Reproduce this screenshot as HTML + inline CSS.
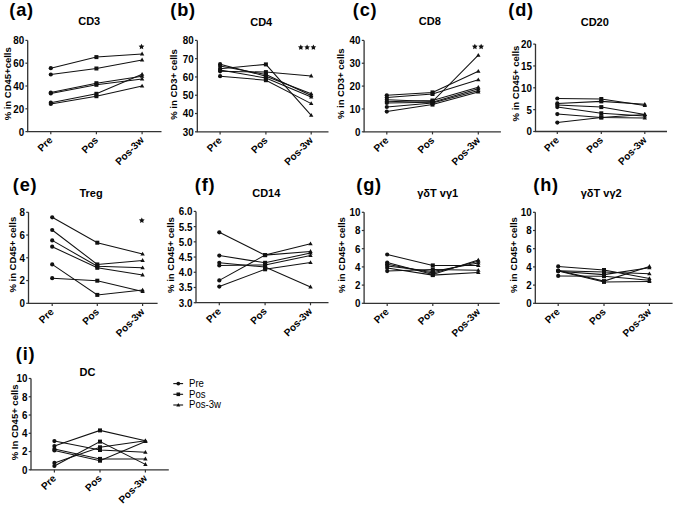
<!DOCTYPE html>
<html><head><meta charset="utf-8"><style>
html,body{margin:0;padding:0;background:#fff;}
svg{display:block;font-family:"Liberation Sans", sans-serif;}
</style></head><body>
<svg width="675" height="506" viewBox="0 0 675 506">
<rect width="675" height="506" fill="#fff"/>
<path d="M27.7 40.4V131.6H161.5" fill="none" stroke="#333" stroke-width="1.3"/>
<path d="M25.4 131.60H27.7" stroke="#333" stroke-width="1.2"/>
<text x="0" y="0" font-size="9.8" font-weight="bold" text-anchor="end" transform="translate(24.10 135.50) scale(1 1.12)">0</text>
<path d="M25.4 108.80H27.7" stroke="#333" stroke-width="1.2"/>
<text x="0" y="0" font-size="9.8" font-weight="bold" text-anchor="end" transform="translate(24.10 112.70) scale(1 1.12)">20</text>
<path d="M25.4 86.00H27.7" stroke="#333" stroke-width="1.2"/>
<text x="0" y="0" font-size="9.8" font-weight="bold" text-anchor="end" transform="translate(24.10 89.90) scale(1 1.12)">40</text>
<path d="M25.4 63.20H27.7" stroke="#333" stroke-width="1.2"/>
<text x="0" y="0" font-size="9.8" font-weight="bold" text-anchor="end" transform="translate(24.10 67.10) scale(1 1.12)">60</text>
<path d="M25.4 40.40H27.7" stroke="#333" stroke-width="1.2"/>
<text x="0" y="0" font-size="9.8" font-weight="bold" text-anchor="end" transform="translate(24.10 44.30) scale(1 1.12)">80</text>
<path d="M50.8 131.6V134.2" stroke="#333" stroke-width="1.2"/>
<path d="M96.4 131.6V134.2" stroke="#333" stroke-width="1.2"/>
<path d="M142.1 131.6V134.2" stroke="#333" stroke-width="1.2"/>
<text x="53.20" y="140.80" font-size="10.1" font-weight="bold" text-anchor="end" transform="rotate(-45 53.20 140.80)" fill="#000">Pre</text>
<text x="98.80" y="140.80" font-size="10.1" font-weight="bold" text-anchor="end" transform="rotate(-45 98.80 140.80)" fill="#000">Pos</text>
<text x="144.50" y="140.80" font-size="10.1" font-weight="bold" text-anchor="end" transform="rotate(-45 144.50 140.80)" fill="#000">Pos-3w</text>
<text x="9.30" y="15.50" font-size="18.2" font-weight="bold" letter-spacing="0.8">(a)</text>
<text x="89.20" y="25.20" font-size="11" font-weight="bold" text-anchor="middle" fill="#000">CD3</text>
<text x="11.50" y="83.80" font-size="9.5" font-weight="bold" text-anchor="middle" transform="rotate(-90 11.50 83.80)" fill="#000">% in CD45+cells</text>
<polygon points="141.50,43.80 142.38,45.59 144.35,45.87 142.93,47.26 143.26,49.23 141.50,48.30 139.74,49.23 140.07,47.26 138.65,45.87 140.62,45.59" fill="#111"/>
<g stroke="#111" stroke-width="1.05" fill="none">
<polyline points="50.80,68.20 96.40,57.10 142.10,53.90"/>
<polyline points="50.80,74.50 96.40,68.50 142.10,59.90"/>
<polyline points="50.80,92.50 96.40,83.20 142.10,76.20"/>
<polyline points="50.80,93.50 96.40,84.80 142.10,79.10"/>
<polyline points="50.80,102.70 96.40,93.80 142.10,74.20"/>
<polyline points="50.80,104.00 96.40,96.20 142.10,86.00"/>
</g>
<g fill="#111">
<circle cx="50.80" cy="68.20" r="2.1"/>
<rect x="94.40" y="55.10" width="4.0" height="4.0"/>
<path d="M142.10 51.61L144.30 55.42L139.90 55.42Z"/>
<circle cx="50.80" cy="74.50" r="2.1"/>
<rect x="94.40" y="66.50" width="4.0" height="4.0"/>
<path d="M142.10 57.61L144.30 61.42L139.90 61.42Z"/>
<circle cx="50.80" cy="92.50" r="2.1"/>
<rect x="94.40" y="81.20" width="4.0" height="4.0"/>
<path d="M142.10 73.91L144.30 77.72L139.90 77.72Z"/>
<circle cx="50.80" cy="93.50" r="2.1"/>
<rect x="94.40" y="82.80" width="4.0" height="4.0"/>
<path d="M142.10 76.81L144.30 80.62L139.90 80.62Z"/>
<circle cx="50.80" cy="102.70" r="2.1"/>
<rect x="94.40" y="91.80" width="4.0" height="4.0"/>
<path d="M142.10 71.91L144.30 75.72L139.90 75.72Z"/>
<circle cx="50.80" cy="104.00" r="2.1"/>
<rect x="94.40" y="94.20" width="4.0" height="4.0"/>
<path d="M142.10 83.71L144.30 87.52L139.90 87.52Z"/>
</g>
<path d="M197.3 40.4V131.8H328.5" fill="none" stroke="#333" stroke-width="1.3"/>
<path d="M195.0 131.80H197.3" stroke="#333" stroke-width="1.2"/>
<text x="0" y="0" font-size="9.8" font-weight="bold" text-anchor="end" transform="translate(193.70 135.70) scale(1 1.12)">30</text>
<path d="M195.0 113.52H197.3" stroke="#333" stroke-width="1.2"/>
<text x="0" y="0" font-size="9.8" font-weight="bold" text-anchor="end" transform="translate(193.70 117.42) scale(1 1.12)">40</text>
<path d="M195.0 95.24H197.3" stroke="#333" stroke-width="1.2"/>
<text x="0" y="0" font-size="9.8" font-weight="bold" text-anchor="end" transform="translate(193.70 99.14) scale(1 1.12)">50</text>
<path d="M195.0 76.96H197.3" stroke="#333" stroke-width="1.2"/>
<text x="0" y="0" font-size="9.8" font-weight="bold" text-anchor="end" transform="translate(193.70 80.86) scale(1 1.12)">60</text>
<path d="M195.0 58.68H197.3" stroke="#333" stroke-width="1.2"/>
<text x="0" y="0" font-size="9.8" font-weight="bold" text-anchor="end" transform="translate(193.70 62.58) scale(1 1.12)">70</text>
<path d="M195.0 40.40H197.3" stroke="#333" stroke-width="1.2"/>
<text x="0" y="0" font-size="9.8" font-weight="bold" text-anchor="end" transform="translate(193.70 44.30) scale(1 1.12)">80</text>
<path d="M220.1 131.8V134.4" stroke="#333" stroke-width="1.2"/>
<path d="M265.9 131.8V134.4" stroke="#333" stroke-width="1.2"/>
<path d="M311.2 131.8V134.4" stroke="#333" stroke-width="1.2"/>
<text x="222.50" y="141.00" font-size="10.1" font-weight="bold" text-anchor="end" transform="rotate(-45 222.50 141.00)" fill="#000">Pre</text>
<text x="268.30" y="141.00" font-size="10.1" font-weight="bold" text-anchor="end" transform="rotate(-45 268.30 141.00)" fill="#000">Pos</text>
<text x="313.60" y="141.00" font-size="10.1" font-weight="bold" text-anchor="end" transform="rotate(-45 313.60 141.00)" fill="#000">Pos-3w</text>
<text x="170.30" y="15.50" font-size="18.2" font-weight="bold" letter-spacing="0.8">(b)</text>
<text x="261.20" y="25.80" font-size="11" font-weight="bold" text-anchor="middle" fill="#000">CD4</text>
<text x="177.00" y="84.50" font-size="9.5" font-weight="bold" text-anchor="middle" transform="rotate(-90 177.00 84.50)" fill="#000">% in CD3+ cells</text>
<polygon points="300.80,44.40 301.68,46.19 303.65,46.47 302.23,47.86 302.56,49.83 300.80,48.90 299.04,49.83 299.37,47.86 297.95,46.47 299.92,46.19" fill="#111"/>
<polygon points="307.10,44.40 307.98,46.19 309.95,46.47 308.53,47.86 308.86,49.83 307.10,48.90 305.34,49.83 305.67,47.86 304.25,46.47 306.22,46.19" fill="#111"/>
<polygon points="313.40,44.40 314.28,46.19 316.25,46.47 314.83,47.86 315.16,49.83 313.40,48.90 311.64,49.83 311.97,47.86 310.55,46.47 312.52,46.19" fill="#111"/>
<g stroke="#111" stroke-width="1.05" fill="none">
<polyline points="220.10,68.70 265.90,64.40 311.20,115.30"/>
<polyline points="220.10,71.30 265.90,72.10 311.20,75.90"/>
<polyline points="220.10,64.20 265.90,76.20 311.20,93.80"/>
<polyline points="220.10,66.00 265.90,74.50 311.20,95.40"/>
<polyline points="220.10,70.00 265.90,78.00 311.20,97.00"/>
<polyline points="220.10,76.20 265.90,80.20 311.20,103.60"/>
</g>
<g fill="#111">
<circle cx="220.10" cy="68.70" r="2.1"/>
<rect x="263.90" y="62.40" width="4.0" height="4.0"/>
<path d="M311.20 113.01L313.40 116.82L309.00 116.82Z"/>
<circle cx="220.10" cy="71.30" r="2.1"/>
<rect x="263.90" y="70.10" width="4.0" height="4.0"/>
<path d="M311.20 73.61L313.40 77.42L309.00 77.42Z"/>
<circle cx="220.10" cy="64.20" r="2.1"/>
<rect x="263.90" y="74.20" width="4.0" height="4.0"/>
<path d="M311.20 91.51L313.40 95.32L309.00 95.32Z"/>
<circle cx="220.10" cy="66.00" r="2.1"/>
<rect x="263.90" y="72.50" width="4.0" height="4.0"/>
<path d="M311.20 93.11L313.40 96.92L309.00 96.92Z"/>
<circle cx="220.10" cy="70.00" r="2.1"/>
<rect x="263.90" y="76.00" width="4.0" height="4.0"/>
<path d="M311.20 94.71L313.40 98.52L309.00 98.52Z"/>
<circle cx="220.10" cy="76.20" r="2.1"/>
<rect x="263.90" y="78.20" width="4.0" height="4.0"/>
<path d="M311.20 101.31L313.40 105.12L309.00 105.12Z"/>
</g>
<path d="M364.1 40.4V131.8H500.9" fill="none" stroke="#333" stroke-width="1.3"/>
<path d="M361.8 131.80H364.1" stroke="#333" stroke-width="1.2"/>
<text x="0" y="0" font-size="9.8" font-weight="bold" text-anchor="end" transform="translate(360.50 135.70) scale(1 1.12)">0</text>
<path d="M361.8 108.95H364.1" stroke="#333" stroke-width="1.2"/>
<text x="0" y="0" font-size="9.8" font-weight="bold" text-anchor="end" transform="translate(360.50 112.85) scale(1 1.12)">10</text>
<path d="M361.8 86.10H364.1" stroke="#333" stroke-width="1.2"/>
<text x="0" y="0" font-size="9.8" font-weight="bold" text-anchor="end" transform="translate(360.50 90.00) scale(1 1.12)">20</text>
<path d="M361.8 63.25H364.1" stroke="#333" stroke-width="1.2"/>
<text x="0" y="0" font-size="9.8" font-weight="bold" text-anchor="end" transform="translate(360.50 67.15) scale(1 1.12)">30</text>
<path d="M361.8 40.40H364.1" stroke="#333" stroke-width="1.2"/>
<text x="0" y="0" font-size="9.8" font-weight="bold" text-anchor="end" transform="translate(360.50 44.30) scale(1 1.12)">40</text>
<path d="M386.8 131.8V134.4" stroke="#333" stroke-width="1.2"/>
<path d="M432.5 131.8V134.4" stroke="#333" stroke-width="1.2"/>
<path d="M478.3 131.8V134.4" stroke="#333" stroke-width="1.2"/>
<text x="389.20" y="141.00" font-size="10.1" font-weight="bold" text-anchor="end" transform="rotate(-45 389.20 141.00)" fill="#000">Pre</text>
<text x="434.90" y="141.00" font-size="10.1" font-weight="bold" text-anchor="end" transform="rotate(-45 434.90 141.00)" fill="#000">Pos</text>
<text x="480.70" y="141.00" font-size="10.1" font-weight="bold" text-anchor="end" transform="rotate(-45 480.70 141.00)" fill="#000">Pos-3w</text>
<text x="352.80" y="15.50" font-size="18.2" font-weight="bold" letter-spacing="0.8">(c)</text>
<text x="429.80" y="25.20" font-size="11" font-weight="bold" text-anchor="middle" fill="#000">CD8</text>
<text x="344.50" y="83.80" font-size="9.5" font-weight="bold" text-anchor="middle" transform="rotate(-90 344.50 83.80)" fill="#000">% in CD3+ cells</text>
<polygon points="474.85,43.80 475.73,45.59 477.70,45.87 476.28,47.26 476.61,49.23 474.85,48.30 473.09,49.23 473.42,47.26 472.00,45.87 473.97,45.59" fill="#111"/>
<polygon points="481.15,43.80 482.03,45.59 484.00,45.87 482.58,47.26 482.91,49.23 481.15,48.30 479.39,49.23 479.72,47.26 478.30,45.87 480.27,45.59" fill="#111"/>
<g stroke="#111" stroke-width="1.05" fill="none">
<polyline points="386.80,95.30 432.50,92.40 478.30,71.20"/>
<polyline points="386.80,97.60 432.50,94.00 478.30,79.70"/>
<polyline points="386.80,99.70 432.50,101.50 478.30,55.20"/>
<polyline points="386.80,101.80 432.50,100.50 478.30,87.20"/>
<polyline points="386.80,103.00 432.50,102.20 478.30,88.80"/>
<polyline points="386.80,107.00 432.50,103.00 478.30,90.40"/>
<polyline points="386.80,111.60 432.50,104.60 478.30,92.00"/>
</g>
<g fill="#111">
<circle cx="386.80" cy="95.30" r="2.1"/>
<rect x="430.50" y="90.40" width="4.0" height="4.0"/>
<path d="M478.30 68.91L480.50 72.72L476.10 72.72Z"/>
<circle cx="386.80" cy="97.60" r="2.1"/>
<rect x="430.50" y="92.00" width="4.0" height="4.0"/>
<path d="M478.30 77.41L480.50 81.22L476.10 81.22Z"/>
<circle cx="386.80" cy="99.70" r="2.1"/>
<rect x="430.50" y="99.50" width="4.0" height="4.0"/>
<path d="M478.30 52.91L480.50 56.72L476.10 56.72Z"/>
<circle cx="386.80" cy="101.80" r="2.1"/>
<rect x="430.50" y="98.50" width="4.0" height="4.0"/>
<path d="M478.30 84.91L480.50 88.72L476.10 88.72Z"/>
<circle cx="386.80" cy="103.00" r="2.1"/>
<rect x="430.50" y="100.20" width="4.0" height="4.0"/>
<path d="M478.30 86.51L480.50 90.32L476.10 90.32Z"/>
<circle cx="386.80" cy="107.00" r="2.1"/>
<rect x="430.50" y="101.00" width="4.0" height="4.0"/>
<path d="M478.30 88.11L480.50 91.92L476.10 91.92Z"/>
<circle cx="386.80" cy="111.60" r="2.1"/>
<rect x="430.50" y="102.60" width="4.0" height="4.0"/>
<path d="M478.30 89.71L480.50 93.52L476.10 93.52Z"/>
</g>
<path d="M535.5 44.1V131.5H667" fill="none" stroke="#333" stroke-width="1.3"/>
<path d="M533.2 131.50H535.5" stroke="#333" stroke-width="1.2"/>
<text x="0" y="0" font-size="9.8" font-weight="bold" text-anchor="end" transform="translate(531.90 135.40) scale(1 1.12)">0</text>
<path d="M533.2 109.65H535.5" stroke="#333" stroke-width="1.2"/>
<text x="0" y="0" font-size="9.8" font-weight="bold" text-anchor="end" transform="translate(531.90 113.55) scale(1 1.12)">5</text>
<path d="M533.2 87.80H535.5" stroke="#333" stroke-width="1.2"/>
<text x="0" y="0" font-size="9.8" font-weight="bold" text-anchor="end" transform="translate(531.90 91.70) scale(1 1.12)">10</text>
<path d="M533.2 65.95H535.5" stroke="#333" stroke-width="1.2"/>
<text x="0" y="0" font-size="9.8" font-weight="bold" text-anchor="end" transform="translate(531.90 69.85) scale(1 1.12)">15</text>
<path d="M533.2 44.10H535.5" stroke="#333" stroke-width="1.2"/>
<text x="0" y="0" font-size="9.8" font-weight="bold" text-anchor="end" transform="translate(531.90 48.00) scale(1 1.12)">20</text>
<path d="M557.3 131.5V134.1" stroke="#333" stroke-width="1.2"/>
<path d="M601.3 131.5V134.1" stroke="#333" stroke-width="1.2"/>
<path d="M644.8 131.5V134.1" stroke="#333" stroke-width="1.2"/>
<text x="559.70" y="140.70" font-size="10.1" font-weight="bold" text-anchor="end" transform="rotate(-45 559.70 140.70)" fill="#000">Pre</text>
<text x="603.70" y="140.70" font-size="10.1" font-weight="bold" text-anchor="end" transform="rotate(-45 603.70 140.70)" fill="#000">Pos</text>
<text x="647.20" y="140.70" font-size="10.1" font-weight="bold" text-anchor="end" transform="rotate(-45 647.20 140.70)" fill="#000">Pos-3w</text>
<text x="508.30" y="15.50" font-size="18.2" font-weight="bold" letter-spacing="0.8">(d)</text>
<text x="594.80" y="25.80" font-size="11" font-weight="bold" text-anchor="middle" fill="#000">CD20</text>
<text x="518.50" y="83.50" font-size="9.5" font-weight="bold" text-anchor="middle" transform="rotate(-90 518.50 83.50)" fill="#000">% in CD45+ cells</text>
<g stroke="#111" stroke-width="1.05" fill="none">
<polyline points="557.30,98.50 601.30,99.00 644.80,105.50"/>
<polyline points="557.30,103.40 601.30,101.40 644.80,104.30"/>
<polyline points="557.30,105.00 601.30,107.10 644.80,114.40"/>
<polyline points="557.30,107.10 601.30,113.30 644.80,116.00"/>
<polyline points="557.30,114.10 601.30,117.40 644.80,118.00"/>
<polyline points="557.30,122.60 601.30,117.40 644.80,114.40"/>
</g>
<g fill="#111">
<circle cx="557.30" cy="98.50" r="2.1"/>
<rect x="599.30" y="97.00" width="4.0" height="4.0"/>
<path d="M644.80 103.21L647.00 107.02L642.60 107.02Z"/>
<circle cx="557.30" cy="103.40" r="2.1"/>
<rect x="599.30" y="99.40" width="4.0" height="4.0"/>
<path d="M644.80 102.01L647.00 105.82L642.60 105.82Z"/>
<circle cx="557.30" cy="105.00" r="2.1"/>
<rect x="599.30" y="105.10" width="4.0" height="4.0"/>
<path d="M644.80 112.11L647.00 115.92L642.60 115.92Z"/>
<circle cx="557.30" cy="107.10" r="2.1"/>
<rect x="599.30" y="111.30" width="4.0" height="4.0"/>
<path d="M644.80 113.71L647.00 117.52L642.60 117.52Z"/>
<circle cx="557.30" cy="114.10" r="2.1"/>
<rect x="599.30" y="115.40" width="4.0" height="4.0"/>
<path d="M644.80 115.71L647.00 119.52L642.60 119.52Z"/>
<circle cx="557.30" cy="122.60" r="2.1"/>
<rect x="599.30" y="115.40" width="4.0" height="4.0"/>
<path d="M644.80 112.11L647.00 115.92L642.60 115.92Z"/>
</g>
<path d="M28.5 212.3V303.3H157.6" fill="none" stroke="#333" stroke-width="1.3"/>
<path d="M26.2 303.30H28.5" stroke="#333" stroke-width="1.2"/>
<text x="0" y="0" font-size="9.8" font-weight="bold" text-anchor="end" transform="translate(24.90 307.20) scale(1 1.12)">0</text>
<path d="M26.2 280.55H28.5" stroke="#333" stroke-width="1.2"/>
<text x="0" y="0" font-size="9.8" font-weight="bold" text-anchor="end" transform="translate(24.90 284.45) scale(1 1.12)">2</text>
<path d="M26.2 257.80H28.5" stroke="#333" stroke-width="1.2"/>
<text x="0" y="0" font-size="9.8" font-weight="bold" text-anchor="end" transform="translate(24.90 261.70) scale(1 1.12)">4</text>
<path d="M26.2 235.05H28.5" stroke="#333" stroke-width="1.2"/>
<text x="0" y="0" font-size="9.8" font-weight="bold" text-anchor="end" transform="translate(24.90 238.95) scale(1 1.12)">6</text>
<path d="M26.2 212.30H28.5" stroke="#333" stroke-width="1.2"/>
<text x="0" y="0" font-size="9.8" font-weight="bold" text-anchor="end" transform="translate(24.90 216.20) scale(1 1.12)">8</text>
<path d="M52.2 303.3V305.90000000000003" stroke="#333" stroke-width="1.2"/>
<path d="M97.3 303.3V305.90000000000003" stroke="#333" stroke-width="1.2"/>
<path d="M142.6 303.3V305.90000000000003" stroke="#333" stroke-width="1.2"/>
<text x="54.60" y="312.50" font-size="10.1" font-weight="bold" text-anchor="end" transform="rotate(-45 54.60 312.50)" fill="#000">Pre</text>
<text x="99.70" y="312.50" font-size="10.1" font-weight="bold" text-anchor="end" transform="rotate(-45 99.70 312.50)" fill="#000">Pos</text>
<text x="145.00" y="312.50" font-size="10.1" font-weight="bold" text-anchor="end" transform="rotate(-45 145.00 312.50)" fill="#000">Pos-3w</text>
<text x="12.80" y="190.50" font-size="18.2" font-weight="bold" letter-spacing="0.8">(e)</text>
<text x="91.00" y="196.70" font-size="11" font-weight="bold" text-anchor="middle" fill="#000">Treg</text>
<text x="16.50" y="254.70" font-size="9.5" font-weight="bold" text-anchor="middle" transform="rotate(-90 16.50 254.70)" fill="#000">% in CD45+ cells</text>
<polygon points="141.80,217.50 142.68,219.29 144.65,219.57 143.23,220.96 143.56,222.93 141.80,222.00 140.04,222.93 140.37,220.96 138.95,219.57 140.92,219.29" fill="#111"/>
<g stroke="#111" stroke-width="1.05" fill="none">
<polyline points="52.20,217.30 97.30,242.70 142.60,254.00"/>
<polyline points="52.20,230.00 97.30,264.40 142.60,260.40"/>
<polyline points="52.20,240.40 97.30,266.20 142.60,267.80"/>
<polyline points="52.20,246.70 97.30,267.80 142.60,274.90"/>
<polyline points="52.20,264.40 97.30,294.90 142.60,290.00"/>
<polyline points="52.20,278.20 97.30,280.70 142.60,291.60"/>
</g>
<g fill="#111">
<circle cx="52.20" cy="217.30" r="2.1"/>
<rect x="95.30" y="240.70" width="4.0" height="4.0"/>
<path d="M142.60 251.71L144.80 255.52L140.40 255.52Z"/>
<circle cx="52.20" cy="230.00" r="2.1"/>
<rect x="95.30" y="262.40" width="4.0" height="4.0"/>
<path d="M142.60 258.11L144.80 261.92L140.40 261.92Z"/>
<circle cx="52.20" cy="240.40" r="2.1"/>
<rect x="95.30" y="264.20" width="4.0" height="4.0"/>
<path d="M142.60 265.51L144.80 269.32L140.40 269.32Z"/>
<circle cx="52.20" cy="246.70" r="2.1"/>
<rect x="95.30" y="265.80" width="4.0" height="4.0"/>
<path d="M142.60 272.61L144.80 276.42L140.40 276.42Z"/>
<circle cx="52.20" cy="264.40" r="2.1"/>
<rect x="95.30" y="292.90" width="4.0" height="4.0"/>
<path d="M142.60 287.71L144.80 291.52L140.40 291.52Z"/>
<circle cx="52.20" cy="278.20" r="2.1"/>
<rect x="95.30" y="278.70" width="4.0" height="4.0"/>
<path d="M142.60 289.31L144.80 293.12L140.40 293.12Z"/>
</g>
<path d="M196 211.4V302.7H328.5" fill="none" stroke="#333" stroke-width="1.3"/>
<path d="M193.7 302.70H196" stroke="#333" stroke-width="1.2"/>
<text x="0" y="0" font-size="9.8" font-weight="bold" text-anchor="end" transform="translate(192.40 306.60) scale(1 1.12)">3.0</text>
<path d="M193.7 287.48H196" stroke="#333" stroke-width="1.2"/>
<text x="0" y="0" font-size="9.8" font-weight="bold" text-anchor="end" transform="translate(192.40 291.38) scale(1 1.12)">3.5</text>
<path d="M193.7 272.27H196" stroke="#333" stroke-width="1.2"/>
<text x="0" y="0" font-size="9.8" font-weight="bold" text-anchor="end" transform="translate(192.40 276.17) scale(1 1.12)">4.0</text>
<path d="M193.7 257.05H196" stroke="#333" stroke-width="1.2"/>
<text x="0" y="0" font-size="9.8" font-weight="bold" text-anchor="end" transform="translate(192.40 260.95) scale(1 1.12)">4.5</text>
<path d="M193.7 241.83H196" stroke="#333" stroke-width="1.2"/>
<text x="0" y="0" font-size="9.8" font-weight="bold" text-anchor="end" transform="translate(192.40 245.73) scale(1 1.12)">5.0</text>
<path d="M193.7 226.62H196" stroke="#333" stroke-width="1.2"/>
<text x="0" y="0" font-size="9.8" font-weight="bold" text-anchor="end" transform="translate(192.40 230.52) scale(1 1.12)">5.5</text>
<path d="M193.7 211.40H196" stroke="#333" stroke-width="1.2"/>
<text x="0" y="0" font-size="9.8" font-weight="bold" text-anchor="end" transform="translate(192.40 215.30) scale(1 1.12)">6.0</text>
<path d="M219.3 302.7V305.3" stroke="#333" stroke-width="1.2"/>
<path d="M265.1 302.7V305.3" stroke="#333" stroke-width="1.2"/>
<path d="M310.5 302.7V305.3" stroke="#333" stroke-width="1.2"/>
<text x="221.70" y="311.90" font-size="10.1" font-weight="bold" text-anchor="end" transform="rotate(-45 221.70 311.90)" fill="#000">Pre</text>
<text x="267.50" y="311.90" font-size="10.1" font-weight="bold" text-anchor="end" transform="rotate(-45 267.50 311.90)" fill="#000">Pos</text>
<text x="312.90" y="311.90" font-size="10.1" font-weight="bold" text-anchor="end" transform="rotate(-45 312.90 311.90)" fill="#000">Pos-3w</text>
<text x="194.80" y="190.50" font-size="18.2" font-weight="bold" letter-spacing="0.8">(f)</text>
<text x="266.30" y="197.00" font-size="11" font-weight="bold" text-anchor="middle" fill="#000">CD14</text>
<text x="173.50" y="255.00" font-size="9.5" font-weight="bold" text-anchor="middle" transform="rotate(-90 173.50 255.00)" fill="#000">% in CD45+ cells</text>
<g stroke="#111" stroke-width="1.05" fill="none">
<polyline points="219.30,232.30 265.10,255.10 310.50,251.40"/>
<polyline points="219.30,280.40 265.10,255.10 310.50,243.70"/>
<polyline points="219.30,255.60 265.10,262.80 310.50,253.00"/>
<polyline points="219.30,265.40 265.10,264.90 310.50,255.60"/>
<polyline points="219.30,286.60 265.10,269.30 310.50,262.50"/>
<polyline points="219.30,262.80 265.10,267.00 310.50,286.90"/>
</g>
<g fill="#111">
<circle cx="219.30" cy="232.30" r="2.1"/>
<rect x="263.10" y="253.10" width="4.0" height="4.0"/>
<path d="M310.50 249.11L312.70 252.92L308.30 252.92Z"/>
<circle cx="219.30" cy="280.40" r="2.1"/>
<rect x="263.10" y="253.10" width="4.0" height="4.0"/>
<path d="M310.50 241.41L312.70 245.22L308.30 245.22Z"/>
<circle cx="219.30" cy="255.60" r="2.1"/>
<rect x="263.10" y="260.80" width="4.0" height="4.0"/>
<path d="M310.50 250.71L312.70 254.52L308.30 254.52Z"/>
<circle cx="219.30" cy="265.40" r="2.1"/>
<rect x="263.10" y="262.90" width="4.0" height="4.0"/>
<path d="M310.50 253.31L312.70 257.12L308.30 257.12Z"/>
<circle cx="219.30" cy="286.60" r="2.1"/>
<rect x="263.10" y="267.30" width="4.0" height="4.0"/>
<path d="M310.50 260.21L312.70 264.02L308.30 264.02Z"/>
<circle cx="219.30" cy="262.80" r="2.1"/>
<rect x="263.10" y="265.00" width="4.0" height="4.0"/>
<path d="M310.50 284.61L312.70 288.42L308.30 288.42Z"/>
</g>
<path d="M364.1 212.3V303.3H499.7" fill="none" stroke="#333" stroke-width="1.3"/>
<path d="M361.8 303.30H364.1" stroke="#333" stroke-width="1.2"/>
<text x="0" y="0" font-size="9.8" font-weight="bold" text-anchor="end" transform="translate(360.50 307.20) scale(1 1.12)">0</text>
<path d="M361.8 285.10H364.1" stroke="#333" stroke-width="1.2"/>
<text x="0" y="0" font-size="9.8" font-weight="bold" text-anchor="end" transform="translate(360.50 289.00) scale(1 1.12)">2</text>
<path d="M361.8 266.90H364.1" stroke="#333" stroke-width="1.2"/>
<text x="0" y="0" font-size="9.8" font-weight="bold" text-anchor="end" transform="translate(360.50 270.80) scale(1 1.12)">4</text>
<path d="M361.8 248.70H364.1" stroke="#333" stroke-width="1.2"/>
<text x="0" y="0" font-size="9.8" font-weight="bold" text-anchor="end" transform="translate(360.50 252.60) scale(1 1.12)">6</text>
<path d="M361.8 230.50H364.1" stroke="#333" stroke-width="1.2"/>
<text x="0" y="0" font-size="9.8" font-weight="bold" text-anchor="end" transform="translate(360.50 234.40) scale(1 1.12)">8</text>
<path d="M361.8 212.30H364.1" stroke="#333" stroke-width="1.2"/>
<text x="0" y="0" font-size="9.8" font-weight="bold" text-anchor="end" transform="translate(360.50 216.20) scale(1 1.12)">10</text>
<path d="M387.2 303.3V305.90000000000003" stroke="#333" stroke-width="1.2"/>
<path d="M432.8 303.3V305.90000000000003" stroke="#333" stroke-width="1.2"/>
<path d="M478.3 303.3V305.90000000000003" stroke="#333" stroke-width="1.2"/>
<text x="389.60" y="312.50" font-size="10.1" font-weight="bold" text-anchor="end" transform="rotate(-45 389.60 312.50)" fill="#000">Pre</text>
<text x="435.20" y="312.50" font-size="10.1" font-weight="bold" text-anchor="end" transform="rotate(-45 435.20 312.50)" fill="#000">Pos</text>
<text x="480.70" y="312.50" font-size="10.1" font-weight="bold" text-anchor="end" transform="rotate(-45 480.70 312.50)" fill="#000">Pos-3w</text>
<text x="356.30" y="190.50" font-size="18.2" font-weight="bold" letter-spacing="0.8">(g)</text>
<text x="437.70" y="196.60" font-size="11" font-weight="bold" text-anchor="middle" fill="#000">γδT vγ1</text>
<text x="344.80" y="255.00" font-size="9.5" font-weight="bold" text-anchor="middle" transform="rotate(-90 344.80 255.00)" fill="#000">% in CD45+ cells</text>
<g stroke="#111" stroke-width="1.05" fill="none">
<polyline points="387.20,254.50 432.80,265.40 478.30,265.40"/>
<polyline points="387.20,262.60 432.80,274.50 478.30,260.00"/>
<polyline points="387.20,264.20 432.80,273.00 478.30,261.30"/>
<polyline points="387.20,265.90 432.80,271.50 478.30,262.90"/>
<polyline points="387.20,271.10 432.80,269.50 478.30,270.30"/>
<polyline points="387.20,268.00 432.80,275.10 478.30,272.40"/>
</g>
<g fill="#111">
<circle cx="387.20" cy="254.50" r="2.1"/>
<rect x="430.80" y="263.40" width="4.0" height="4.0"/>
<path d="M478.30 263.11L480.50 266.92L476.10 266.92Z"/>
<circle cx="387.20" cy="262.60" r="2.1"/>
<rect x="430.80" y="272.50" width="4.0" height="4.0"/>
<path d="M478.30 257.71L480.50 261.52L476.10 261.52Z"/>
<circle cx="387.20" cy="264.20" r="2.1"/>
<rect x="430.80" y="271.00" width="4.0" height="4.0"/>
<path d="M478.30 259.01L480.50 262.82L476.10 262.82Z"/>
<circle cx="387.20" cy="265.90" r="2.1"/>
<rect x="430.80" y="269.50" width="4.0" height="4.0"/>
<path d="M478.30 260.61L480.50 264.42L476.10 264.42Z"/>
<circle cx="387.20" cy="271.10" r="2.1"/>
<rect x="430.80" y="267.50" width="4.0" height="4.0"/>
<path d="M478.30 268.01L480.50 271.82L476.10 271.82Z"/>
<circle cx="387.20" cy="268.00" r="2.1"/>
<rect x="430.80" y="273.10" width="4.0" height="4.0"/>
<path d="M478.30 270.11L480.50 273.92L476.10 273.92Z"/>
</g>
<path d="M535.3 212.3V303.3H672.6" fill="none" stroke="#333" stroke-width="1.3"/>
<path d="M533.0 303.30H535.3" stroke="#333" stroke-width="1.2"/>
<text x="0" y="0" font-size="9.8" font-weight="bold" text-anchor="end" transform="translate(531.70 307.20) scale(1 1.12)">0</text>
<path d="M533.0 285.10H535.3" stroke="#333" stroke-width="1.2"/>
<text x="0" y="0" font-size="9.8" font-weight="bold" text-anchor="end" transform="translate(531.70 289.00) scale(1 1.12)">2</text>
<path d="M533.0 266.90H535.3" stroke="#333" stroke-width="1.2"/>
<text x="0" y="0" font-size="9.8" font-weight="bold" text-anchor="end" transform="translate(531.70 270.80) scale(1 1.12)">4</text>
<path d="M533.0 248.70H535.3" stroke="#333" stroke-width="1.2"/>
<text x="0" y="0" font-size="9.8" font-weight="bold" text-anchor="end" transform="translate(531.70 252.60) scale(1 1.12)">6</text>
<path d="M533.0 230.50H535.3" stroke="#333" stroke-width="1.2"/>
<text x="0" y="0" font-size="9.8" font-weight="bold" text-anchor="end" transform="translate(531.70 234.40) scale(1 1.12)">8</text>
<path d="M533.0 212.30H535.3" stroke="#333" stroke-width="1.2"/>
<text x="0" y="0" font-size="9.8" font-weight="bold" text-anchor="end" transform="translate(531.70 216.20) scale(1 1.12)">10</text>
<path d="M558.2 303.3V305.90000000000003" stroke="#333" stroke-width="1.2"/>
<path d="M604 303.3V305.90000000000003" stroke="#333" stroke-width="1.2"/>
<path d="M649.4 303.3V305.90000000000003" stroke="#333" stroke-width="1.2"/>
<text x="560.60" y="312.50" font-size="10.1" font-weight="bold" text-anchor="end" transform="rotate(-45 560.60 312.50)" fill="#000">Pre</text>
<text x="606.40" y="312.50" font-size="10.1" font-weight="bold" text-anchor="end" transform="rotate(-45 606.40 312.50)" fill="#000">Pos</text>
<text x="651.80" y="312.50" font-size="10.1" font-weight="bold" text-anchor="end" transform="rotate(-45 651.80 312.50)" fill="#000">Pos-3w</text>
<text x="533.30" y="190.50" font-size="18.2" font-weight="bold" letter-spacing="0.8">(h)</text>
<text x="601.20" y="197.00" font-size="11" font-weight="bold" text-anchor="middle" fill="#000">γδT vγ2</text>
<text x="517.00" y="255.00" font-size="9.5" font-weight="bold" text-anchor="middle" transform="rotate(-90 517.00 255.00)" fill="#000">% in CD45+ cells</text>
<g stroke="#111" stroke-width="1.05" fill="none">
<polyline points="558.20,266.40 604.00,270.00 649.40,278.60"/>
<polyline points="558.20,270.50 604.00,281.10 649.40,266.40"/>
<polyline points="558.20,271.30 604.00,274.60 649.40,267.70"/>
<polyline points="558.20,270.80 604.00,272.10 649.40,273.70"/>
<polyline points="558.20,275.90 604.00,276.20 649.40,280.30"/>
<polyline points="558.20,271.00 604.00,281.90 649.40,281.40"/>
</g>
<g fill="#111">
<circle cx="558.20" cy="266.40" r="2.1"/>
<rect x="602.00" y="268.00" width="4.0" height="4.0"/>
<path d="M649.40 276.31L651.60 280.12L647.20 280.12Z"/>
<circle cx="558.20" cy="270.50" r="2.1"/>
<rect x="602.00" y="279.10" width="4.0" height="4.0"/>
<path d="M649.40 264.11L651.60 267.92L647.20 267.92Z"/>
<circle cx="558.20" cy="271.30" r="2.1"/>
<rect x="602.00" y="272.60" width="4.0" height="4.0"/>
<path d="M649.40 265.41L651.60 269.22L647.20 269.22Z"/>
<circle cx="558.20" cy="270.80" r="2.1"/>
<rect x="602.00" y="270.10" width="4.0" height="4.0"/>
<path d="M649.40 271.41L651.60 275.22L647.20 275.22Z"/>
<circle cx="558.20" cy="275.90" r="2.1"/>
<rect x="602.00" y="274.20" width="4.0" height="4.0"/>
<path d="M649.40 278.01L651.60 281.82L647.20 281.82Z"/>
<circle cx="558.20" cy="271.00" r="2.1"/>
<rect x="602.00" y="279.90" width="4.0" height="4.0"/>
<path d="M649.40 279.11L651.60 282.92L647.20 282.92Z"/>
</g>
<path d="M31 378.5V469.8H168.8" fill="none" stroke="#333" stroke-width="1.3"/>
<path d="M28.7 469.80H31" stroke="#333" stroke-width="1.2"/>
<text x="0" y="0" font-size="9.8" font-weight="bold" text-anchor="end" transform="translate(27.40 473.70) scale(1 1.12)">0</text>
<path d="M28.7 451.54H31" stroke="#333" stroke-width="1.2"/>
<text x="0" y="0" font-size="9.8" font-weight="bold" text-anchor="end" transform="translate(27.40 455.44) scale(1 1.12)">2</text>
<path d="M28.7 433.28H31" stroke="#333" stroke-width="1.2"/>
<text x="0" y="0" font-size="9.8" font-weight="bold" text-anchor="end" transform="translate(27.40 437.18) scale(1 1.12)">4</text>
<path d="M28.7 415.02H31" stroke="#333" stroke-width="1.2"/>
<text x="0" y="0" font-size="9.8" font-weight="bold" text-anchor="end" transform="translate(27.40 418.92) scale(1 1.12)">6</text>
<path d="M28.7 396.76H31" stroke="#333" stroke-width="1.2"/>
<text x="0" y="0" font-size="9.8" font-weight="bold" text-anchor="end" transform="translate(27.40 400.66) scale(1 1.12)">8</text>
<path d="M28.7 378.50H31" stroke="#333" stroke-width="1.2"/>
<text x="0" y="0" font-size="9.8" font-weight="bold" text-anchor="end" transform="translate(27.40 382.40) scale(1 1.12)">10</text>
<path d="M54.4 469.8V472.40000000000003" stroke="#333" stroke-width="1.2"/>
<path d="M100 469.8V472.40000000000003" stroke="#333" stroke-width="1.2"/>
<path d="M145.4 469.8V472.40000000000003" stroke="#333" stroke-width="1.2"/>
<text x="56.80" y="479.00" font-size="10.1" font-weight="bold" text-anchor="end" transform="rotate(-45 56.80 479.00)" fill="#000">Pre</text>
<text x="102.40" y="479.00" font-size="10.1" font-weight="bold" text-anchor="end" transform="rotate(-45 102.40 479.00)" fill="#000">Pos</text>
<text x="147.80" y="479.00" font-size="10.1" font-weight="bold" text-anchor="end" transform="rotate(-45 147.80 479.00)" fill="#000">Pos-3w</text>
<text x="15.80" y="360.00" font-size="18.2" font-weight="bold" letter-spacing="0.8">(i)</text>
<text x="87.50" y="376.40" font-size="11" font-weight="bold" text-anchor="middle" fill="#000">DC</text>
<text x="18.50" y="422.40" font-size="9.5" font-weight="bold" text-anchor="middle" transform="rotate(-90 18.50 422.40)" fill="#000">% In CD45+ cells</text>
<g stroke="#111" stroke-width="1.05" fill="none">
<polyline points="54.40,446.00 100.00,430.40 145.40,440.70"/>
<polyline points="54.40,441.10 100.00,450.00 145.40,452.20"/>
<polyline points="54.40,448.90 100.00,458.90 145.40,458.90"/>
<polyline points="54.40,450.40 100.00,460.70 145.40,441.60"/>
<polyline points="54.40,462.90 100.00,447.30 145.40,440.70"/>
<polyline points="54.40,466.00 100.00,441.60 145.40,464.40"/>
</g>
<g fill="#111">
<circle cx="54.40" cy="446.00" r="2.1"/>
<rect x="98.00" y="428.40" width="4.0" height="4.0"/>
<path d="M145.40 438.41L147.60 442.22L143.20 442.22Z"/>
<circle cx="54.40" cy="441.10" r="2.1"/>
<rect x="98.00" y="448.00" width="4.0" height="4.0"/>
<path d="M145.40 449.91L147.60 453.72L143.20 453.72Z"/>
<circle cx="54.40" cy="448.90" r="2.1"/>
<rect x="98.00" y="456.90" width="4.0" height="4.0"/>
<path d="M145.40 456.61L147.60 460.42L143.20 460.42Z"/>
<circle cx="54.40" cy="450.40" r="2.1"/>
<rect x="98.00" y="458.70" width="4.0" height="4.0"/>
<path d="M145.40 439.31L147.60 443.12L143.20 443.12Z"/>
<circle cx="54.40" cy="462.90" r="2.1"/>
<rect x="98.00" y="445.30" width="4.0" height="4.0"/>
<path d="M145.40 438.41L147.60 442.22L143.20 442.22Z"/>
<circle cx="54.40" cy="466.00" r="2.1"/>
<rect x="98.00" y="439.60" width="4.0" height="4.0"/>
<path d="M145.40 462.11L147.60 465.92L143.20 465.92Z"/>
</g>
<path d="M173.3 383.60H183.1" stroke="#111" stroke-width="1.1"/>
<g fill="#111">
<circle cx="178.30" cy="383.60" r="1.9"/>
</g>
<text x="0" y="0" font-size="9.6" transform="translate(189 386.90) scale(1 1.18)">Pre</text>
<path d="M173.3 394.30H183.1" stroke="#111" stroke-width="1.1"/>
<g fill="#111">
<rect x="176.50" y="392.50" width="3.6" height="3.6"/>
</g>
<text x="0" y="0" font-size="9.6" transform="translate(189 397.60) scale(1 1.18)">Pos</text>
<path d="M173.3 405.00H183.1" stroke="#111" stroke-width="1.1"/>
<g fill="#111">
<path d="M178.30 402.92L180.30 406.39L176.30 406.39Z"/>
</g>
<text x="0" y="0" font-size="9.6" transform="translate(189 408.30) scale(1 1.18)">Pos-3w</text>
</svg></body></html>
